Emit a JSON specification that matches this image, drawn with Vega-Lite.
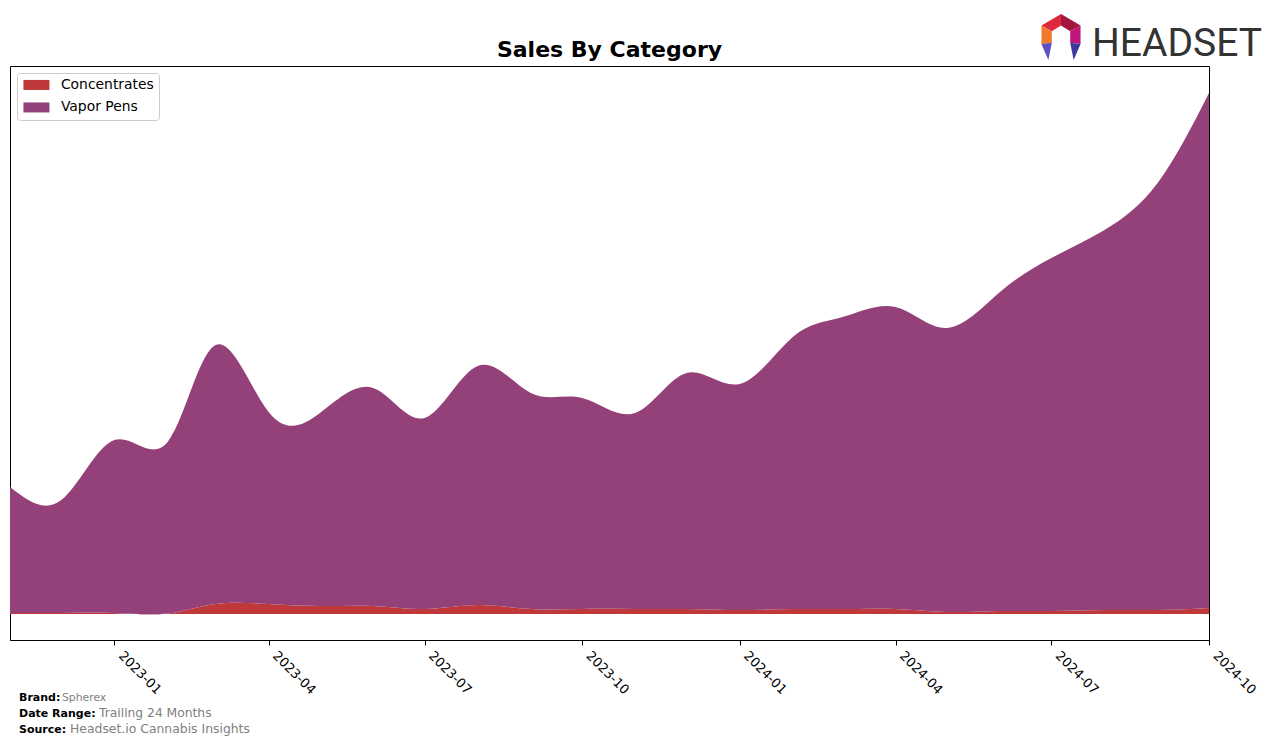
{
  "$schema": "https://vega.github.io/schema/vega-lite/v6.json",
  "width": 1199,
  "height": 574,
  "autosize": {"type": "none"},
  "padding": {"left": 10, "top": 66, "right": 67, "bottom": 105},
  "background": "white",
  "config": {
    "font": "DejaVu Sans",
    "view": {"stroke": "black", "strokeWidth": 1}
  },
  "layer": [
    {
      "data": {
        "values": [
          {"month": "2022-11-01", "category": "Concentrates", "sales": 1000},
          {"month": "2022-12-01", "category": "Concentrates", "sales": 1000},
          {"month": "2023-01-01", "category": "Concentrates", "sales": 1000},
          {"month": "2023-02-01", "category": "Concentrates", "sales": 500},
          {"month": "2023-03-01", "category": "Concentrates", "sales": 10000},
          {"month": "2023-04-01", "category": "Concentrates", "sales": 10000},
          {"month": "2023-05-01", "category": "Concentrates", "sales": 8000},
          {"month": "2023-06-01", "category": "Concentrates", "sales": 8000},
          {"month": "2023-07-01", "category": "Concentrates", "sales": 5000},
          {"month": "2023-08-01", "category": "Concentrates", "sales": 9000},
          {"month": "2023-09-01", "category": "Concentrates", "sales": 5000},
          {"month": "2023-10-01", "category": "Concentrates", "sales": 5000},
          {"month": "2023-11-01", "category": "Concentrates", "sales": 5000},
          {"month": "2023-12-01", "category": "Concentrates", "sales": 5000},
          {"month": "2024-01-01", "category": "Concentrates", "sales": 4000},
          {"month": "2024-02-01", "category": "Concentrates", "sales": 5000},
          {"month": "2024-03-01", "category": "Concentrates", "sales": 5000},
          {"month": "2024-04-01", "category": "Concentrates", "sales": 5000},
          {"month": "2024-05-01", "category": "Concentrates", "sales": 2000},
          {"month": "2024-06-01", "category": "Concentrates", "sales": 3000},
          {"month": "2024-07-01", "category": "Concentrates", "sales": 3000},
          {"month": "2024-08-01", "category": "Concentrates", "sales": 4000},
          {"month": "2024-09-01", "category": "Concentrates", "sales": 4000},
          {"month": "2024-10-01", "category": "Concentrates", "sales": 6000},
          {"month": "2022-11-01", "category": "Vapor Pens", "sales": 126000},
          {"month": "2022-12-01", "category": "Vapor Pens", "sales": 113000},
          {"month": "2023-01-01", "category": "Vapor Pens", "sales": 173000},
          {"month": "2023-02-01", "category": "Vapor Pens", "sales": 171500},
          {"month": "2023-03-01", "category": "Vapor Pens", "sales": 259000},
          {"month": "2023-04-01", "category": "Vapor Pens", "sales": 192000},
          {"month": "2023-05-01", "category": "Vapor Pens", "sales": 193000},
          {"month": "2023-06-01", "category": "Vapor Pens", "sales": 218000},
          {"month": "2023-07-01", "category": "Vapor Pens", "sales": 191000},
          {"month": "2023-08-01", "category": "Vapor Pens", "sales": 239000},
          {"month": "2023-09-01", "category": "Vapor Pens", "sales": 216000},
          {"month": "2023-10-01", "category": "Vapor Pens", "sales": 211000},
          {"month": "2023-11-01", "category": "Vapor Pens", "sales": 196000},
          {"month": "2023-12-01", "category": "Vapor Pens", "sales": 236000},
          {"month": "2024-01-01", "category": "Vapor Pens", "sales": 226000},
          {"month": "2024-02-01", "category": "Vapor Pens", "sales": 272000},
          {"month": "2024-03-01", "category": "Vapor Pens", "sales": 292000},
          {"month": "2024-04-01", "category": "Vapor Pens", "sales": 302000},
          {"month": "2024-05-01", "category": "Vapor Pens", "sales": 284000},
          {"month": "2024-06-01", "category": "Vapor Pens", "sales": 319000},
          {"month": "2024-07-01", "category": "Vapor Pens", "sales": 353000},
          {"month": "2024-08-01", "category": "Vapor Pens", "sales": 380000},
          {"month": "2024-09-01", "category": "Vapor Pens", "sales": 427000},
          {"month": "2024-10-01", "category": "Vapor Pens", "sales": 515000}
        ]
      },
      "mark": {"type": "area", "interpolate": "natural", "opacity": 1},
      "encoding": {
        "x": {
          "field": "month",
          "type": "temporal",
          "scale": {
            "type": "utc",
            "domain": [
              {"year": 2022, "month": 11, "date": 1, "utc": true},
              {"year": 2024, "month": 10, "date": 1, "utc": true}
            ]
          },
          "axis": {
            "title": null,
            "labelExpr": "utcFormat(datum.value, '%Y-%m')",
            "tickCount": {"interval": "month", "step": 3},
            "grid": false,
            "domain": true,
            "domainColor": "black",
            "domainWidth": 1,
            "ticks": true,
            "tickColor": "black",
            "tickSize": 5,
            "tickWidth": 1,
            "labelFont": "DejaVu Sans",
            "labelFontSize": 13,
            "labelColor": "black",
            "labelAngle": 45,
            "labelAlign": "left",
            "labelBaseline": "top",
            "labelPadding": 4,
            "labelOffset": 10,
            "labelFlush": false,
            "labelOverlap": false
          }
        },
        "y": {
          "field": "sales",
          "type": "quantitative",
          "stack": "zero",
          "scale": {"domain": [-26000, 548000], "nice": false, "zero": false},
          "axis": null
        },
        "order": {"field": "category", "sort": "ascending"},
        "color": {
          "field": "category",
          "type": "nominal",
          "scale": {
            "domain": ["Concentrates", "Vapor Pens"],
            "range": ["#C0393A", "#954179"]
          },
          "legend": {
            "title": null,
            "orient": "top-left",
            "offset": 7,
            "fillColor": "white",
            "strokeColor": "#cccccc",
            "cornerRadius": 3,
            "padding": 5,
            "symbolType": "M-2,-0.77H2V0.77H-2Z",
            "symbolSize": 169,
            "symbolOffset": 7.5,
            "symbolStrokeWidth": 0,
            "symbolOpacity": 1,
            "labelFont": "DejaVu Sans",
            "labelFontSize": 13.9,
            "labelColor": "black",
            "labelOffset": 17.5,
            "rowPadding": 7.5
          }
        }
      }
    },
    {
      "data": {"values": [{"t": "Sales By Category"}]},
      "mark": {"type": "text", "x": 599.5, "y": -9, "align": "center", "baseline": "alphabetic", "font": "DejaVu Sans", "fontWeight": "bold", "fontSize": 22, "color": "black"},
      "encoding": {"text": {"field": "t"}}
    },
    {
      "data": {"values": [{"t": "Brand:"}]},
      "mark": {"type": "text", "x": 9, "y": 635, "align": "left", "baseline": "alphabetic", "font": "DejaVu Sans", "fontWeight": "bold", "fontSize": 11, "color": "black"},
      "encoding": {"text": {"field": "t"}}
    },
    {
      "data": {"values": [{"t": "Spherex"}]},
      "mark": {"type": "text", "x": 52, "y": 635, "align": "left", "baseline": "alphabetic", "font": "DejaVu Sans", "fontSize": 10.8, "color": "#808080"},
      "encoding": {"text": {"field": "t"}}
    },
    {
      "data": {"values": [{"t": "Date Range:"}]},
      "mark": {"type": "text", "x": 9, "y": 651, "align": "left", "baseline": "alphabetic", "font": "DejaVu Sans", "fontWeight": "bold", "fontSize": 11, "color": "black"},
      "encoding": {"text": {"field": "t"}}
    },
    {
      "data": {"values": [{"t": "Trailing 24 Months"}]},
      "mark": {"type": "text", "x": 89, "y": 651, "align": "left", "baseline": "alphabetic", "font": "DejaVu Sans", "fontSize": 12.3, "color": "#808080"},
      "encoding": {"text": {"field": "t"}}
    },
    {
      "data": {"values": [{"t": "Source:"}]},
      "mark": {"type": "text", "x": 9, "y": 667, "align": "left", "baseline": "alphabetic", "font": "DejaVu Sans", "fontWeight": "bold", "fontSize": 11, "color": "black"},
      "encoding": {"text": {"field": "t"}}
    },
    {
      "data": {"values": [{"t": "Headset.io Cannabis Insights"}]},
      "mark": {"type": "text", "x": 60, "y": 667, "align": "left", "baseline": "alphabetic", "font": "DejaVu Sans", "fontSize": 12.4, "color": "#808080"},
      "encoding": {"text": {"field": "t"}}
    },
    {
      "data": {"values": [{"t": "HEADSET"}]},
      "mark": {"type": "text", "x": 1082, "y": -10, "align": "left", "baseline": "alphabetic", "font": "Roboto", "fontSize": 39, "color": "#333333"},
      "encoding": {"text": {"field": "t"}}
    },
    {
      "data": {"values": [{"p": "a"}]},
      "mark": {"type": "point", "shape": "M0,-1L-0.85,-0.5L-0.4,-0.25L0,-0.5Z", "size": 2116, "filled": true, "opacity": 1, "color": "#E0283C", "x": 1051, "y": -29},
      "encoding": {}
    },
    {
      "data": {"values": [{"p": "b"}]},
      "mark": {"type": "point", "shape": "M0,-1L0.85,-0.5L0.4,-0.25L0,-0.5Z", "size": 2116, "filled": true, "opacity": 1, "color": "#A3163D", "x": 1051, "y": -29},
      "encoding": {}
    },
    {
      "data": {"values": [{"p": "c"}]},
      "mark": {"type": "point", "shape": "M-0.85,-0.5L-0.85,0.3L-0.4,0.25L-0.4,-0.25Z", "size": 2116, "filled": true, "opacity": 1, "color": "#F07A2A", "x": 1051, "y": -29},
      "encoding": {}
    },
    {
      "data": {"values": [{"p": "d"}]},
      "mark": {"type": "point", "shape": "M0.85,-0.5L0.85,0.3L0.4,0.25L0.4,-0.25Z", "size": 2116, "filled": true, "opacity": 1, "color": "#C0157A", "x": 1051, "y": -29},
      "encoding": {}
    },
    {
      "data": {"values": [{"p": "e"}]},
      "mark": {"type": "point", "shape": "M-0.85,0.3L-0.4,0.25L-0.55,1Z", "size": 2116, "filled": true, "opacity": 1, "color": "#5B4FC4", "x": 1051, "y": -29},
      "encoding": {}
    },
    {
      "data": {"values": [{"p": "f"}]},
      "mark": {"type": "point", "shape": "M0.85,0.3L0.4,0.25L0.55,1Z", "size": 2116, "filled": true, "opacity": 1, "color": "#3E3A9E", "x": 1051, "y": -29},
      "encoding": {}
    }
  ]
}
